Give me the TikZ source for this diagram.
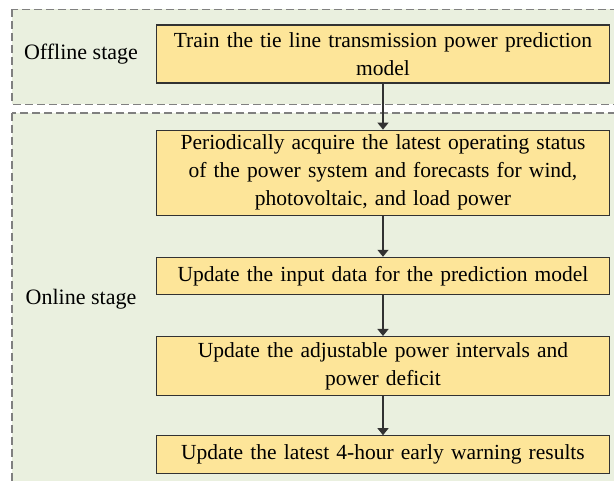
\documentclass[tikz,border=0pt]{standalone}
\usepackage{fontspec}
\setmainfont{Liberation Serif}
\usetikzlibrary
  {
    positioning,
    backgrounds,
    arrows.meta,
  }
\definecolor{stagebg}{RGB}{234,240,223}
\definecolor{stepfill}{RGB}{253,229,153}
\definecolor{framegray}{RGB}{128,128,128}
\definecolor{stepline}{RGB}{50,50,50}
\tikzset
  {
    ->,
    >={Triangle[length=7pt,width=11pt]},
    process/.style=
      {
        draw=stepline,
        fill=stepfill,
        line width=1.2pt,
        rectangle,
        inner sep=0pt,
        text width=453pt,
        align=center,
        font=\fontsize{21.5}{28}\selectfont,
      },
    stage/.style=
      {
        inner sep=0pt,
        font=\fontsize{22}{28}\selectfont,
      },
    stage frame/.style=
      {
        -,
        draw=framegray,
        fill=stagebg,
        line width=1.3pt,
        dash pattern=on 8pt off 4pt,
      },
  }
\begin{document}
\begin{tikzpicture}[x=1pt, y=-1pt]
  \useasboundingbox (0,0) rectangle (614,481);

  \node[process, minimum height=58pt] at (383,54) (train)
    {Train the tie line transmission power prediction\\model};
  \node[process, minimum height=85pt, below=46pt of train] (acquire)
    {Periodically acquire the latest operating status\\
     of the power system and forecasts for wind,\\
     photovoltaic, and load power};
  \node[process, minimum height=37pt, below=41pt of acquire] (input)
    {Update the input data for the prediction model};
  \node[process, minimum height=59pt, below=41pt of input] (interval)
    {Update the adjustable power intervals and\\power deficit};
  \node[process, minimum height=38pt, below=39pt of interval] (warning)
    {Update the latest 4-hour early warning results};

  \node[stage] at (81,54) (offline) {Offline stage};
  \node[stage] at (81,299) (online) {Online stage};

  \begin{scope}[on background layer]
    \draw[stage frame] (12,9.5) rectangle (640,104.5);
    \draw[stage frame] (12,113) rectangle (640,495);
  \end{scope}

  \foreach \from/\to in {train/acquire, acquire/input, input/interval, interval/warning}
    \draw[line width=1.3pt, draw=stepline] (\from) -- (\to);
\end{tikzpicture}
\end{document}
